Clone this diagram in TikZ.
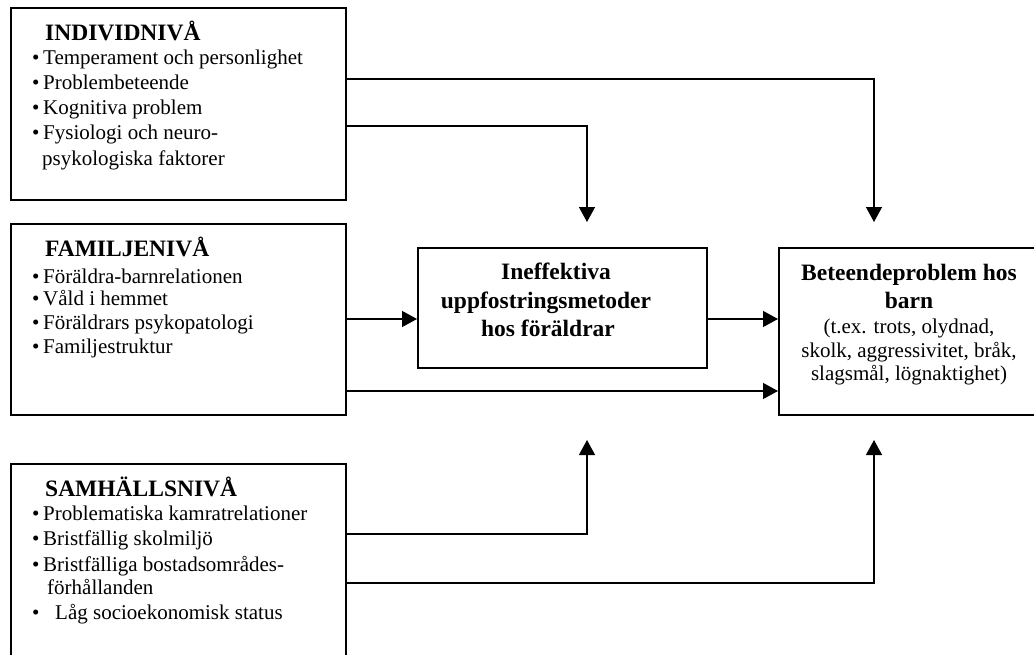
\documentclass[tikz,border=0pt]{standalone}
\usepackage{fontspec}
\setmainfont{Liberation Serif}
\usetikzlibrary{arrows.meta}
\tikzset{
  box/.style={draw=black, line width=1.7pt, inner sep=0pt, anchor=north west},
  conn/.style={draw=black, line width=1.3pt},
  arr/.style={conn, -{Triangle[length=15pt,width=16pt]}},
  head/.style={inner sep=0pt, anchor=base west, font=\fontsize{23.5}{28}\selectfont\bfseries},
  item/.style={inner sep=0pt, anchor=base west, font=\fontsize{21}{24}\selectfont},
  ctitle/.style={inner sep=0pt, anchor=base, font=\fontsize{23.5}{28}\selectfont\bfseries},
  ctext/.style={inner sep=0pt, anchor=base, font=\fontsize{21}{24}\selectfont},
}
\newcommand{\bul}[1]{\makebox[11pt][l]{•}#1}
\begin{document}
\begin{tikzpicture}[x=1pt,y=-1pt]
\useasboundingbox (0,0) rectangle (1034,654);
\clip (0,0) rectangle (1034,654);
% boxes
\node[box, minimum width=335pt, minimum height=192pt] (ind) at (10,7) {};
\node[box, minimum width=335pt, minimum height=191pt] (fam) at (10,223) {};
\node[box, minimum width=335pt, minimum height=220pt] (soc) at (10,463) {};
\node[box, minimum width=289pt, minimum height=120pt] (mid) at (417,247) {};
\node[box, minimum width=265pt, minimum height=167pt] (res) at (778,247) {};
% individ text
\node[head] (h1) at (45,40) {INDIVIDNIVÅ};
\node[item] (i1) at (32,64) {\bul{Temperament och personlighet}};
\node[item] (i2) at (32,89) {\bul{Problembeteende}};
\node[item] (i3) at (32,114) {\bul{Kognitiva problem}};
\node[item] (i4) at (32,139) {\bul{Fysiologi och neuro-}};
\node[item] (i5) at (42,165) {psykologiska faktorer};
% familj text
\node[head] (h2) at (45,256) {FAMILJENIVÅ};
\node[item] (f1) at (32,283) {\bul{Föräldra-barnrelationen}};
\node[item] (f2) at (32,305) {\bul{Våld i hemmet}};
\node[item] (f3) at (32,329) {\bul{Föräldrars psykopatologi}};
\node[item] (f4) at (32,353) {\bul{Familjestruktur}};
% samhälle text
\node[head] (h3) at (45,496) {SAMHÄLLSNIVÅ};
\node[item] (s1) at (32,520) {\bul{Problematiska kamratrelationer}};
\node[item] (s2) at (32,545) {\bul{Bristfällig skolmiljö}};
\node[item] (s3) at (32,571) {\bul{Bristfälliga bostadsområdes-}};
\node[item] (s4) at (47,594) {förhållanden};
\node[item] (s5) at (32,619) {\makebox[23pt][l]{•}Låg socioekonomisk status};
% middle text
\node[ctitle] (m1) at (556,279) {Ineffektiva};
\node[ctitle] (m2) at (546,308) {uppfostringsmetoder};
\node[ctitle] (m3) at (548,336) {hos föräldrar};
% result text
\node[ctitle] (r1) at (909,280) {Beteendeproblem hos};
\node[ctitle] (r2) at (909,308) {barn};
\node[ctext] (r3) at (909,333) {(t.ex. trots, olydnad,};
\node[ctext] (r4) at (909,357) {skolk, aggressivitet, bråk,};
\node[ctext] (r5) at (909,380) {slagsmål, lögnaktighet)};
% helper coordinates
\coordinate (ya) at (0,79);
\coordinate (yb) at (0,126);
\coordinate (yc) at (0,319);
\coordinate (yd) at (0,391);
\coordinate (ye) at (0,534);
\coordinate (yf) at (0,583);
\coordinate (tipR1) at (874,222);
\coordinate (tipM1) at (587,222);
\coordinate (tipM2) at (587,440);
\coordinate (tipR2) at (874,440);
% connectors
\draw[arr] (ind.east |- ya) -| (tipR1);
\draw[arr] (ind.east |- yb) -| (tipM1);
\draw[arr] (fam.east |- yc) -- (mid.west |- yc);
\draw[arr] (mid.east |- yc) -- (res.west |- yc);
\draw[arr] (fam.east |- yd) -- (res.west |- yd);
\draw[arr] (soc.east |- ye) -| (tipM2);
\draw[arr] (soc.east |- yf) -| (tipR2);
\end{tikzpicture}
\end{document}
